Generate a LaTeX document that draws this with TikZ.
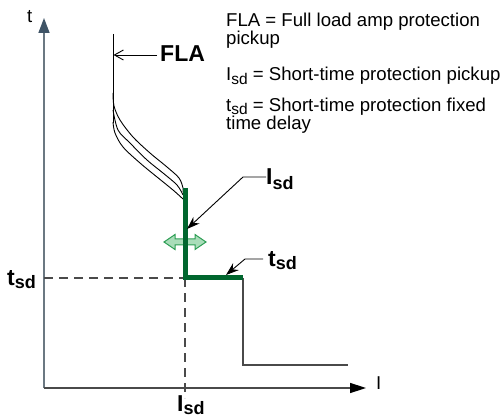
\documentclass[tikz,border=0pt]{standalone}
\usepackage{fontspec}
\setmainfont{Liberation Sans}
\usetikzlibrary{arrows.meta}
\definecolor{axisgray}{HTML}{6B7882}
\definecolor{arrowslate}{HTML}{3F5466}
\definecolor{darkgreen}{HTML}{00662E}
\definecolor{lightgreen}{HTML}{A9DDB9}
\definecolor{midgreen}{HTML}{2E9E55}
\definecolor{linegray}{HTML}{4A4A4A}
\newcommand\lsub[3]{\raisebox{-#2}{\fontsize{#1}{#1}\selectfont #3}}
\begin{document}
\begin{tikzpicture}[x=1pt,y=-1pt,
  legend/.style={anchor=base west, inner sep=0pt, align=left, font=\fontsize{18.6}{18.5}\selectfont},
  biglabel/.style={anchor=base west, inner sep=0pt, font=\fontsize{23}{25}\selectfont\bfseries},
  axislabel/.style={anchor=base west, inner sep=0pt, font=\fontsize{18.6}{20}\selectfont},
  leader/.style={draw=black, line width=0.9pt, -{Stealth[length=13pt,width=9pt]}},
  curve/.style={draw=black, line width=0.9pt},
  dashline/.style={draw=linegray, line width=1.2pt, dash pattern=on 9pt off 6pt},
  greenline/.style={draw=darkgreen, line width=5pt, line join=miter},
  stepline/.style={draw=linegray, line width=1.6pt}
]
\useasboundingbox (0,0) rectangle (504,417);

% axes
\coordinate (O) at (44,388);
\coordinate (ytip) at (44,18);
\coordinate (xtip) at (366,388);
\draw[axisgray, line width=1.5pt, -{Triangle[length=15pt,width=11pt,color=arrowslate,fill=arrowslate]}] (O) -- (ytip);
\draw[linegray, line width=1.5pt, -{Triangle[length=16pt,width=10pt,color=black,fill=black]}] (O) -- (xtip);
\node[axislabel] (tlab) at (27,23) {t};
\node[axislabel] (Ilab) at (376,389) {I};

% dashed guides
\coordinate (tsdL) at (44,278);
\coordinate (corner) at (185,278);
\coordinate (isdB) at (185,398);
\draw[dashline] (tsdL) -- (corner);
\draw[dashline] (corner) -- (isdB);

% FLA curves
\coordinate (flaTop) at (113,34);
\coordinate (flaBot) at (113,123);
\draw[curve] (flaTop) -- (flaBot);
\draw[curve] plot[smooth, tension=0.55] coordinates {(113,93) (114,106) (120,120) (133,137) (150,153) (167,167) (179,178) (183,188) (183,192)};
\draw[curve] plot[smooth, tension=0.55] coordinates {(113,110) (118,130) (130,143) (147,160) (163,173) (177,185) (183,195)};
\draw[curve] plot[smooth, tension=0.55] coordinates {(113,122) (115,133) (123,147) (140,163) (157,177) (173,190) (183,199)};

% double arrow
\draw[midgreen, fill=lightgreen, line width=1pt, line join=miter]
  (164,242) -- (175,234.5) -- (175,239) -- (195,239) -- (195,234.5) -- (206,242)
  -- (195,249.5) -- (195,245) -- (175,245) -- (175,249.5) -- cycle;

% trip curve
\coordinate (gTop) at (185,188);
\coordinate (gEnd) at (243,278);
\coordinate (sBot) at (243,365);
\coordinate (sEnd) at (348,365);
\draw[stepline] (gEnd) -- (sBot) -- (sEnd);
\draw[greenline] (gTop) -- (corner) -- (gEnd);

% labels with leaders
\node[biglabel] (FLA) at (160,62) {FLA};
\coordinate (flaTip) at (113.5,55);
\draw[curve, -{Straight Barb[length=9pt,width=10pt]}] (157,55) -- (flaTip);

\node[biglabel] (IsdLab) at (266,185) {I\lsub{18}{5pt}{sd}};
\coordinate (isdTip) at (187,229);
\coordinate (isdBend) at (243,177);
\draw[leader] (IsdLab.west |- 0,177) -- (isdBend) -- (isdTip);

\node[biglabel] (tsdLab) at (268,266) {t\lsub{18}{3pt}{sd}};
\coordinate (tsdTip) at (226,275);
\coordinate (tsdBend) at (245,259);
\draw[leader] (263,259) -- (tsdBend) -- (tsdTip);

\node[biglabel] (tsdAx) at (7,285) {t\lsub{18}{3pt}{sd}};
\node[biglabel] (isdAx) at (177,411) {I\lsub{18}{3pt}{sd}};

% legend
\node[legend] (leg1) at (226,45) {FLA = Full load amp protection\\pickup};
\node[legend] (leg3) at (226,81) {I\lsub{15.5}{3.5pt}{sd} = Short-time protection pickup};
\node[legend] (leg4) at (226,130) {t\lsub{15.5}{3.5pt}{sd} = Short-time protection fixed\\time delay};
\end{tikzpicture}
\end{document}
